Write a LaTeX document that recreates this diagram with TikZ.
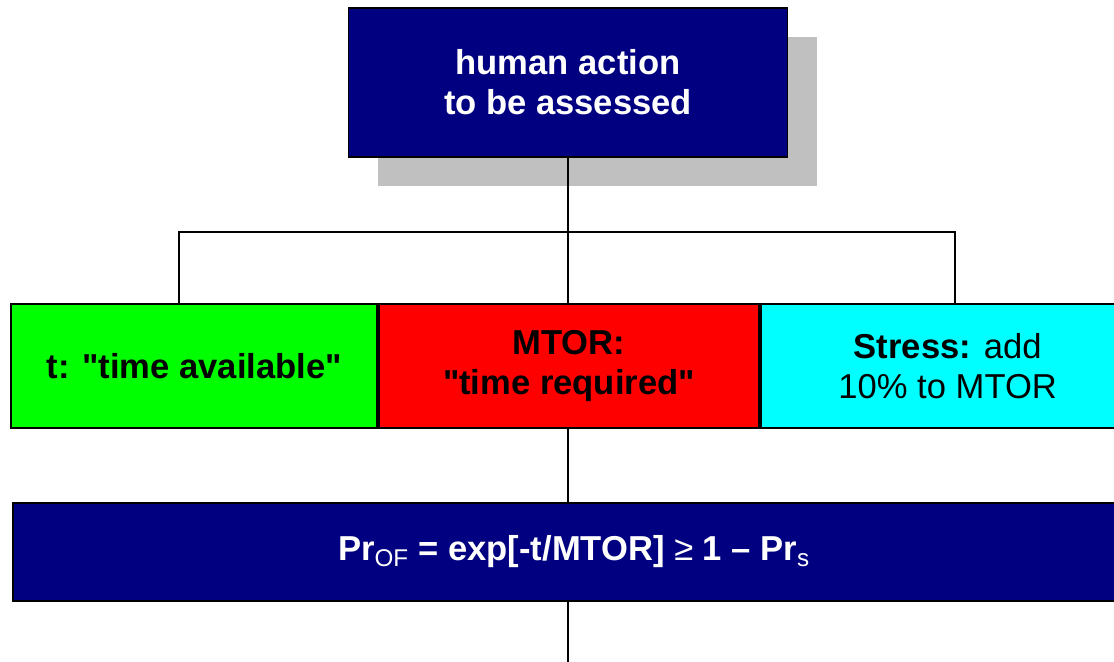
\documentclass[tikz,border=0pt]{standalone}
\usepackage{fontspec}
\setmainfont{Liberation Sans}
\usetikzlibrary{positioning, shadows}
\definecolor{boxnavy}{HTML}{000080}
\definecolor{shadowgrey}{HTML}{C0C0C0}
\definecolor{tgreen}{HTML}{00FF00}
\definecolor{mtorred}{HTML}{FF0000}
\definecolor{stresscyan}{HTML}{00FFFF}
\newcommand{\boxfont}{\fontsize{24.6}{28.5}\selectfont}

\begin{document}
\begin{tikzpicture}[font=\boxfont, node distance=0cm,
    blk/.style={draw, line width=1.2pt, align=center, inner sep=0pt, minimum height=3.1cm},
    navy/.style={blk, fill=boxnavy, text=white, font=\boxfont\bfseries},
    link/.style={line width=1.4pt}]
    \clip (0,0) rectangle (27.85,-16.55);
    \node[navy, minimum width=10.975cm, minimum height=3.725cm,
        drop shadow={shadow xshift=0.725cm, shadow yshift=-0.725cm, fill=shadowgrey, opacity=1, draw=none}]
        (act) at (14.2,-2.06) {human action\\to be assessed};

    \node[blk, fill=mtorred, minimum width=9.5cm, font=\boxfont\bfseries] (mtor) at (14.225,-9.15)
        {MTOR:\\\textquotedbl time required\textquotedbl};
    \node[blk, fill=tgreen, minimum width=9.15cm, font=\boxfont\bfseries, left=of mtor] (tavail)
        {t: \textquotedbl time available\textquotedbl};
    \node[blk, fill=stresscyan, minimum width=9.35cm, right=of mtor] (stress) {\textbf{Stress:} add\\10\% to MTOR};

    \node[navy, minimum width=28.05cm, minimum height=2.45cm] (prob) at (14.35,-13.8)
        {Pr\textsubscript{\mdseries OF} = exp[-t/MTOR] {\mdseries ≥} 1 – Pr\textsubscript{\mdseries s}};

    \coordinate (lft) at (4.475,-5.8);
    \coordinate (rgt) at (23.875,-5.8);
    \coordinate (out) at (14.2,-16.6);

    \draw[link] (act.south) -- (act.south |- mtor.north);
    \draw[link] (act.south |- lft) -- (lft) -- (lft |- tavail.north);
    \draw[link] (act.south |- rgt) -- (rgt) -- (rgt |- stress.north);
    \draw[link] (act.south |- mtor.south) -- (act.south |- prob.north);
    \draw[link] (act.south |- prob.south) -- (act.south |- out);
\end{tikzpicture}
\end{document}
